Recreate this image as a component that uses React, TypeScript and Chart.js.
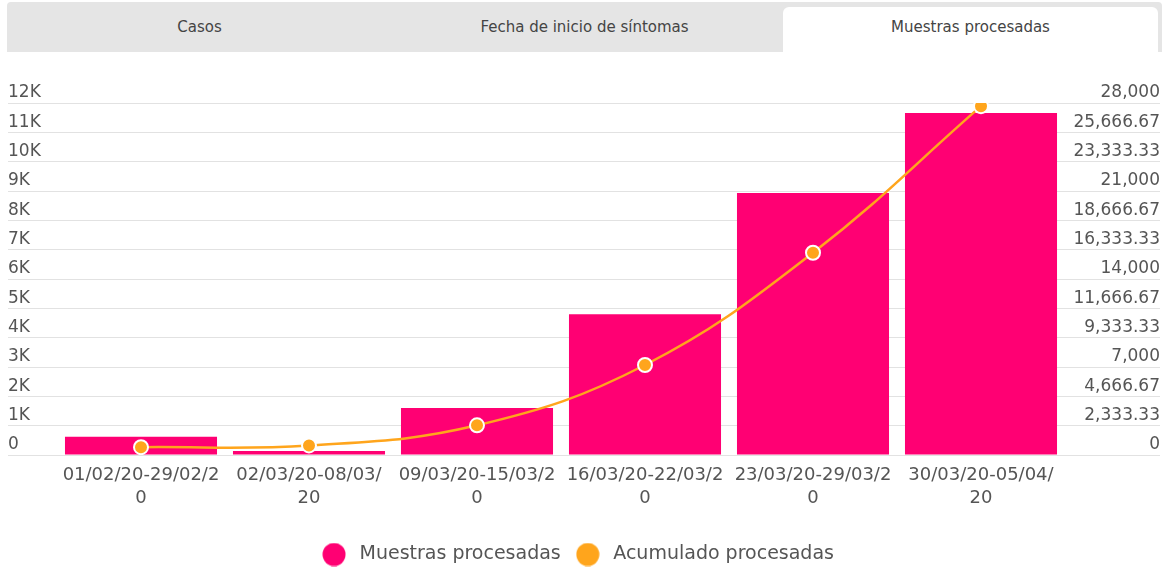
import React, { useEffect, useRef } from "react";
import { Chart, registerables } from "chart.js";

Chart.register(...registerables);

if (typeof document !== "undefined") {
  document.body.style.margin = "0";
}

const tabs = ["Casos", "Fecha de inicio de síntomas", "Muestras procesadas"];
const activeTab = 2;

const categories: string[][] = [
  ["01/02/20-29/02/2", "0"],
  ["02/03/20-08/03/", "20"],
  ["09/03/20-15/03/2", "0"],
  ["16/03/20-22/03/2", "0"],
  ["23/03/20-29/03/2", "0"],
  ["30/03/20-05/04/", "20"],
];

const muestras = [620, 140, 1600, 4800, 8930, 11660];
const acumulado = [620, 760, 2360, 7160, 16090, 27750];

const seriesNames = ["Muestras procesadas", "Acumulado procesadas"];

const leftMax = 12000;
const leftStep = 1000;
const rightMax = 28000;
const rightStep = 28000 / 12;

const PINK = "#ff0073";
const ORANGE = "#ffa51c";
const FONT = "'DejaVu Sans', sans-serif";
const TEXT = "#555555";

function makeDot(color: string) {
  const c = document.createElement("canvas");
  c.width = 24;
  c.height = 24;
  const ctx = c.getContext("2d")!;
  ctx.fillStyle = color;
  ctx.beginPath();
  ctx.arc(12, 12, 11.5, 0, Math.PI * 2);
  ctx.fill();
  return c;
}

const legendShift = {
  id: "legendShift",
  afterLayout(chart: any) {
    if (chart.legend) {
      chart.legend.left -= 8;
      chart.legend.right -= 8;
    }
  },
};

function ChartView() {
  const ref = useRef<HTMLCanvasElement | null>(null);
  useEffect(() => {
    if (!ref.current) return;
    const dots = [makeDot(PINK), makeDot(ORANGE)];
    const chart = new Chart(ref.current, {
      type: "bar",
      plugins: [legendShift],
      data: {
        labels: categories as any,
        datasets: [
          {
            type: "bar",
            label: seriesNames[0],
            data: muestras,
            backgroundColor: PINK,
            borderWidth: 0,
            yAxisID: "y",
            order: 1,
            categoryPercentage: 1,
            barPercentage: 0.905,
          } as any,
          {
            type: "line",
            label: seriesNames[1],
            data: acumulado,
            borderColor: ORANGE,
            backgroundColor: ORANGE,
            borderWidth: 2.5,
            pointRadius: 7,
            pointBorderWidth: 2,
            pointBorderColor: "#ffffff",
            pointBackgroundColor: ORANGE,
            tension: 0.4,
            yAxisID: "y1",
            order: 0,
          } as any,
        ],
      },
      options: {
        animation: false,
        responsive: true,
        maintainAspectRatio: false,
        layout: { padding: { top: 51, left: 1, right: 2, bottom: -6 } },
        plugins: {
          tooltip: { enabled: false },
          legend: {
            position: "bottom",
            labels: {
              usePointStyle: true,
              pointStyleWidth: 32,
              boxHeight: 16,
              color: TEXT,
              padding: 11,
              font: { family: FONT, size: 19 },
              generateLabels: (ch: any) => {
                const items = (Chart.defaults.plugins.legend.labels as any).generateLabels(ch);
                return items
                  .sort((a: any, b: any) => a.datasetIndex - b.datasetIndex)
                  .map((it: any) => ({
                    ...it,
                    pointStyle: dots[it.datasetIndex],
                    lineWidth: 0,
                    strokeStyle: "transparent",
                  }));
              },
            },
          },
        },
        scales: {
          x: {
            grid: { display: false, drawTicks: false },
            border: { display: false },
            ticks: {
              color: TEXT,
              padding: 9,
              maxRotation: 0,
              autoSkip: false,
              font: { family: FONT, size: 18, lineHeight: 1.28 },
            },
            afterFit: (s: any) => {
              s.height = 79;
            },
          },
          y: {
            position: "left",
            min: 0,
            max: leftMax,
            grid: { color: "#e2e2e2", lineWidth: 1, drawTicks: true, tickLength: 49 },
            border: { display: false },
            ticks: {
              stepSize: leftStep,
              crossAlign: "far",
              labelOffset: -10,
              color: TEXT,
              font: { family: FONT, size: 17 },
              callback: (v: any) => (Number(v) === 0 ? "0" : Number(v) / 1000 + "K"),
            },
            afterFit: (s: any) => {
              s.width = 49;
            },
          },
          y1: {
            position: "right",
            min: 0,
            max: rightMax,
            grid: { drawOnChartArea: false, color: "#e2e2e2", drawTicks: true, tickLength: 95 },
            border: { display: false },
            ticks: {
              stepSize: rightStep,
              crossAlign: "far",
              labelOffset: -10,
              color: TEXT,
              font: { family: FONT, size: 17 },
              callback: (v: any) =>
                Number(v).toLocaleString("en-US", { maximumFractionDigits: 2 }),
            },
            afterFit: (s: any) => {
              s.width = 95;
            },
          },
        },
      } as any,
    });
    return () => chart.destroy();
  }, []);
  return (
    <div style={{ position: "relative", height: 516, width: "100%" }}>
      <canvas ref={ref} />
    </div>
  );
}

export default function App() {
  return (
    <div style={{ padding: "2px 7px 0 7px", overflow: "hidden", height: 566 }}>
      <div
        style={{
          position: "relative",
          height: 50,
          background: "#e5e5e5",
          borderRadius: "4px 4px 0 0",
          fontFamily: FONT,
          fontSize: 15,
          color: "#444",
        }}
      >
        {tabs.map((t, i) => (
          <div
            key={t}
            style={{
              position: "absolute",
              left: i === activeTab ? 776 : i * 385,
              width: i === activeTab ? 375 : 385,
              top: i === activeTab ? 5 : 0,
              bottom: 0,
              background: i === activeTab ? "#ffffff" : "transparent",
              borderRadius: i === activeTab ? "6px 6px 0 0" : 0,
              display: "flex",
              alignItems: "center",
              justifyContent: "center",
              paddingBottom: i === activeTab ? 5 : 0,
              boxSizing: "border-box",
            }}
          >
            {t}
          </div>
        ))}
      </div>
      <ChartView />
    </div>
  );
}
